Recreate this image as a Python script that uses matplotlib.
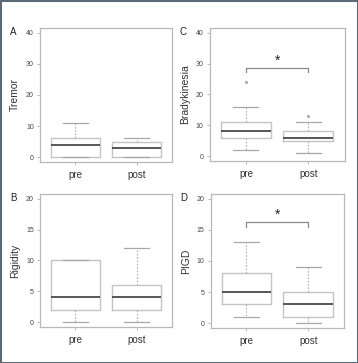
import matplotlib
matplotlib.use("Agg")
import matplotlib.pyplot as plt
from matplotlib.patches import Rectangle

plt.rcParams['font.family'] = ['Liberation Sans', 'DejaVu Sans']

groups = ["pre", "post"]

# Panel data: (q1, median, q3, whisker low, whisker high, outliers)
tremor_q1 = [0, 0]; tremor_med = [4, 3]; tremor_q3 = [6, 5]
tremor_lo = [0, 0]; tremor_hi = [11, 6]; tremor_out = [[], []]

rigid_q1 = [2, 2]; rigid_med = [4, 4]; rigid_q3 = [10, 6]
rigid_lo = [0, 0]; rigid_hi = [10, 12]; rigid_out = [[], []]

brady_q1 = [6, 5]; brady_med = [8, 6]; brady_q3 = [11, 8]
brady_lo = [2, 1]; brady_hi = [16, 11]; brady_out = [[24], [13]]

pigd_q1 = [3, 1]; pigd_med = [5, 3]; pigd_q3 = [8, 5]
pigd_lo = [1, 0]; pigd_hi = [13, 9]; pigd_out = [[], []]

panels = [
    dict(letter="A", ylabel="Tremor", q1=tremor_q1, med=tremor_med, q3=tremor_q3,
         lo=tremor_lo, hi=tremor_hi, out=tremor_out, ymax=40, yticks=[0, 10, 20, 30, 40],
         sig=None, pos=[0.1117, 0.5537, 0.3687, 0.3692]),
    dict(letter="C", ylabel="Bradykinesia", q1=brady_q1, med=brady_med, q3=brady_q3,
         lo=brady_lo, hi=brady_hi, out=brady_out, ymax=40, yticks=[0, 10, 20, 30, 40],
         sig=(28.7, 27.2, 30.8), pos=[0.5857, 0.5565, 0.3773, 0.3664]),
    dict(letter="B", ylabel="Rigidity", q1=rigid_q1, med=rigid_med, q3=rigid_q3,
         lo=rigid_lo, hi=rigid_hi, out=rigid_out, ymax=20, yticks=[0, 5, 10, 15, 20],
         sig=None, pos=[0.1117, 0.0992, 0.3687, 0.3664]),
    dict(letter="D", ylabel="PIGD", q1=pigd_q1, med=pigd_med, q3=pigd_q3,
         lo=pigd_lo, hi=pigd_hi, out=pigd_out, ymax=20, yticks=[0, 5, 10, 15, 20],
         sig=(16.3, 15.5, 17.4), pos=[0.588, 0.0964, 0.373, 0.3692]),
]

fig = plt.figure(figsize=(3.58, 3.63), dpi=100)
fig.patch.set_facecolor("white")
fig.patches.append(Rectangle((0, 0), 1, 1, transform=fig.transFigure, fill=False,
                             edgecolor="#5a6a76", linewidth=2.2, zorder=10))

frame_c = "#b8b8b8"
for p in panels:
    ax = fig.add_axes(p["pos"])
    stats = []
    for i, g in enumerate(groups):
        stats.append(dict(label=g, q1=p["q1"][i], med=p["med"][i], q3=p["q3"][i],
                          whislo=p["lo"][i], whishi=p["hi"][i], fliers=p["out"][i]))
    ax.bxp(stats, positions=[1, 2], widths=0.8, showfliers=True,
           boxprops=dict(color="#c4c4c4", linewidth=1.0),
           medianprops=dict(color="#4a4a4a", linewidth=1.3),
           whiskerprops=dict(color="#b0b0b0", linewidth=0.8, linestyle=(0, (1.5, 1.5))),
           capprops=dict(color="#a8a8a8", linewidth=0.9),
           capwidths=0.4,
           flierprops=dict(marker="o", markersize=1.3, markerfacecolor="#b0b0b0",
                           markeredgecolor="#b0b0b0"))
    ym = p["ymax"]
    ax.set_ylim(-0.04 * ym, ym * 1.04)
    ax.set_xlim(0.42, 2.58)
    ax.set_yticks(p["yticks"])
    ax.set_yticklabels([str(t) for t in p["yticks"]], fontsize=5, color="#444444")
    ax.set_xticks([1, 2])
    ax.set_xticklabels(groups, fontsize=7, color="#333333")
    ax.tick_params(axis="both", length=2.5, width=0.6, color="#b0b0b0", pad=2)
    ax.tick_params(axis="x", pad=3.5)
    for s in ax.spines.values():
        s.set_color(frame_c)
        s.set_linewidth(0.9)
    ax.set_ylabel(p["ylabel"], fontsize=7.5, color="#333333", labelpad=4)
    ax.text(-0.2, 0.97, p["letter"], transform=ax.transAxes, fontsize=7,
            color="#222222", ha="center", va="center")
    if p["sig"] is not None:
        top, leg, star = p["sig"]
        ax.plot([1, 1, 2, 2], [leg, top, top, leg], color="#8a8a8a", linewidth=0.9)
        ax.text(1.5, star, "*", fontsize=10, ha="center", va="center", color="#222222")

fig.savefig("out.png", dpi=100, facecolor="white")
